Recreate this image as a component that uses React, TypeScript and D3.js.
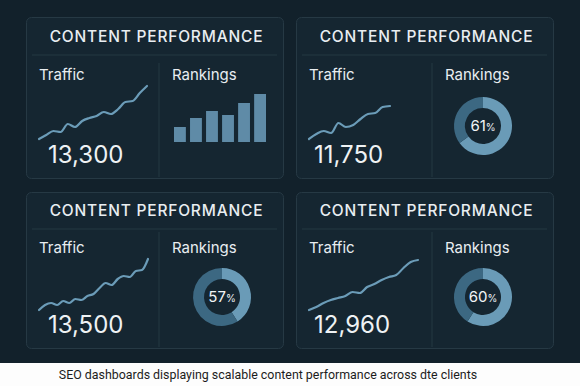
import React, { useRef, useEffect } from 'react';
import * as d3 from 'd3';

// card values
const trafficTotals = ['13,300', '11,750', '13,500', '12,960'];
const rankingsPct = [null, 61, 57, 60];
// share of the ring drawn in the light tone
const ringLit = [null, 65, 41, 59];

// traffic sparklines (relative heights)
const traffic1 = [0, 4, 8, 7, 15, 12, 18, 21, 23, 27, 25, 30, 37, 38, 46, 53];
const traffic2 = [0, 5, 8, 6, 16, 12, 14, 20, 25, 26, 32, 33];
const traffic3 = [0, 5, 7, 5, 9, 7, 11, 10, 14, 16, 22, 27, 25, 31, 34, 33, 39, 40, 51];
const traffic4 = [0, 3, 7, 10, 12, 14, 18, 17, 23, 26, 30, 33, 35, 42, 48, 50];
const trafficSeries = [traffic1, traffic2, traffic3, traffic4];
const lineWidths = [108, 81, 109, 109];

// rankings bars (first card)
const rankBars = [15, 24, 31, 27, 39, 48];

const title = 'CONTENT PERFORMANCE';
const caption = 'SEO dashboards displaying scalable content performance across dte clients';

const W = 580;
const H = 386;
const cardX = [26, 296, 26, 296];
const cardY = [17, 17, 192, 192];
const cardW = 257;
const cardH = [161, 161, 156, 156];

const App: React.FC = () => {
  const svgRef = useRef<SVGSVGElement>(null);

  useEffect(() => {
    if (!svgRef.current) return;
    const svg = d3.select(svgRef.current);
    svg.selectAll('*').remove();

    svg.append('rect').attr('width', W).attr('height', H).attr('fill', '#12212b');

    trafficTotals.forEach((total, i) => {
      const top = i < 2 ? 0 : 1;
      const g = svg.append('g').attr('transform', `translate(${cardX[i]},${cardY[i]})`);
      const h = cardH[i];
      const divX = i % 2 === 0 ? 133 : 136;

      g.append('rect')
        .attr('x', 0.5).attr('y', 0.5)
        .attr('width', cardW).attr('height', h)
        .attr('rx', 5)
        .attr('fill', '#152631')
        .attr('stroke', '#263944');

      g.append('text')
        .attr('x', cardW / 2 + 2).attr('y', top ? 24 : 25)
        .attr('text-anchor', 'middle')
        .attr('fill', '#e9eef1')
        .style('font-family', 'Inter, "Noto Sans", sans-serif')
        .style('font-size', '15.5px')
        .style('font-weight', 500)
        .style('letter-spacing', '0.8px')
        .text(title);

      g.append('line')
        .attr('x1', 6).attr('x2', cardW - 6)
        .attr('y1', top ? 37 : 38).attr('y2', top ? 37 : 38)
        .attr('stroke', '#253843');

      g.append('line')
        .attr('x1', divX).attr('x2', divX)
        .attr('y1', top ? 40 : 46).attr('y2', h - 1)
        .attr('stroke', '#253843');

      const label = (x: number, t: string) =>
        g.append('text')
          .attr('x', x).attr('y', top ? 61 : 63)
          .attr('fill', '#e9eef1')
          .style('font-family', 'Inter, "Noto Sans", sans-serif')
          .style('font-size', '15px')
          .text(t);
      label(13, 'Traffic');
      label(divX + 13, 'Rankings');

      g.append('text')
        .attr('x', i % 2 === 0 ? 22 : 18).attr('y', top ? 141 : 146)
        .attr('fill', '#eef2f4')
        .style('font-family', 'Inter, "Noto Sans", sans-serif')
        .style('font-size', '24px')
        .style('font-weight', 400)
        .text(total);

      // sparkline
      const series = trafficSeries[i];
      const base = top ? 118 : 122;
      const x = d3.scaleLinear().domain([0, series.length - 1]).range([13, 13 + lineWidths[i]]);
      const y = d3.scaleLinear().domain([0, 60]).range([base, base - 60]);
      const line = d3.line<number>()
        .x((_, k) => x(k))
        .y(d => y(d))
        .curve(d3.curveMonotoneX);
      g.append('path')
        .datum(series)
        .attr('fill', 'none')
        .attr('stroke', '#6b9cb8')
        .attr('stroke-width', 2.2)
        .attr('stroke-linejoin', 'round')
        .attr('stroke-linecap', 'round')
        .attr('d', line);

      if (i === 0) {
        const bx = d3.scaleBand<number>()
          .domain(d3.range(rankBars.length))
          .range([divX + 15, divX + 107])
          .paddingInner(0.26);
        const by = d3.scaleLinear().domain([0, 60]).range([125, 65]);
        g.selectAll('.bar')
          .data(rankBars)
          .enter()
          .append('rect')
          .attr('class', 'bar')
          .attr('x', (_, k) => bx(k) as number)
          .attr('y', d => by(d))
          .attr('width', bx.bandwidth())
          .attr('height', d => by(0) - by(d))
          .attr('fill', '#5f8ba7');
      } else {
        const pct = rankingsPct[i] as number;
        const lit = ringLit[i] as number;
        const cx = i === 2 ? 196 : 187;
        const cy = top ? 105 : 109;
        const arc = d3.arc<d3.PieArcDatum<number>>().innerRadius(18).outerRadius(29);
        const pie = d3.pie<number>().sort(null).value(d => d);
        const ring = g.append('g').attr('transform', `translate(${cx},${cy})`);
        ring.selectAll('path')
          .data(pie([lit, 100 - lit]))
          .enter()
          .append('path')
          .attr('d', arc)
          .attr('fill', (_, k) => (k === 0 ? '#6a9bb7' : '#3c6882'));
        const t = ring.append('text')
          .attr('text-anchor', 'middle')
          .attr('y', 5)
          .attr('fill', '#f2f5f7')
          .style('font-family', 'Inter, "Noto Sans", sans-serif');
        t.append('tspan').style('font-size', '15px').text(String(pct));
        t.append('tspan').style('font-size', '10px').text('%');
      }
    });

    // caption band
    svg.append('rect').attr('x', 0).attr('y', 363).attr('width', W).attr('height', H - 363).attr('fill', '#fdfdfd');
    svg.append('text')
      .attr('x', 268).attr('y', 379)
      .attr('text-anchor', 'middle')
      .attr('fill', '#1c1c1c')
      .style('font-family', 'Roboto, "Liberation Sans", Arial, sans-serif')
      .style('font-size', '12.4px')
      .text(caption);
  }, []);

  return (
    <svg
      ref={svgRef}
      width={W}
      height={H}
      style={{ position: 'absolute', left: 0, top: 0, display: 'block' }}
    />
  );
};

export default App;
